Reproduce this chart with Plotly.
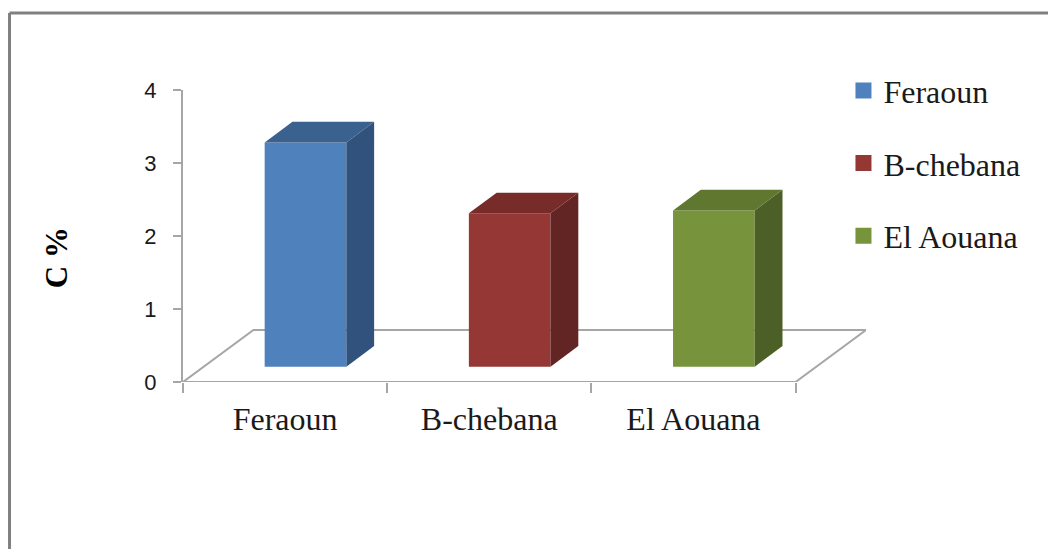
import plotly.graph_objects as go

# Carbon content per site
categories = ["Feraoun", "B-chebana", "El Aouana"]
values = [3.07, 2.10, 2.14]
y_ticks = [0, 1, 2, 3, 4]

front_colors = ["#4F81BD", "#953735", "#77933C"]
top_colors = ["#3B618F", "#772C2A", "#5F772F"]
side_colors = ["#30527C", "#632523", "#4C5F26"]

# Pseudo-3D projection, expressed in axis units
BAR_WIDTH = 0.40
BAR_SHIFT = 0.60
BAR_LIFT = 0.21
BAR_DX = 0.136
BAR_DY = 0.284
FLOOR_DX = 0.345
FLOOR_DY = 0.712
AXIS_GRAY = "#A6A6A6"
SERIF = "Liberation Serif"

n = len(categories)
x_range = [0, n + FLOOR_DX]

fig = go.Figure()

# Floor of the 3D box and the front edge acting as the category axis line
fig.add_trace(go.Scatter(
    x=[0, FLOOR_DX, n + FLOOR_DX, n, 0],
    y=[0, FLOOR_DY, FLOOR_DY, 0, 0],
    mode="lines", line=dict(color=AXIS_GRAY, width=2),
    cliponaxis=False, showlegend=False, hoverinfo="skip",
))

for i, (name, value) in enumerate(zip(categories, values)):
    left = i + BAR_SHIFT - BAR_WIDTH / 2
    right = left + BAR_WIDTH
    bottom = BAR_LIFT
    top = BAR_LIFT + value
    fig.add_trace(go.Bar(
        x=[i + BAR_SHIFT], y=[value], base=[BAR_LIFT], width=[BAR_WIDTH],
        marker=dict(color=front_colors[i], line=dict(width=0)),
        xaxis="x2", yaxis="y2", showlegend=False, name=name,
    ))
    # Right-hand side face
    fig.add_trace(go.Scatter(
        x=[right, right + BAR_DX, right + BAR_DX, right, right],
        y=[bottom, bottom + BAR_DY, top + BAR_DY, top, bottom],
        mode="lines", fill="toself", fillcolor=side_colors[i],
        line=dict(width=0, color=side_colors[i]),
        xaxis="x2", yaxis="y2", showlegend=False, hoverinfo="skip",
    ))
    # Top face
    fig.add_trace(go.Scatter(
        x=[left, left + BAR_DX, right + BAR_DX, right, left],
        y=[top, top + BAR_DY, top + BAR_DY, top, top],
        mode="lines", fill="toself", fillcolor=top_colors[i],
        line=dict(width=0, color=top_colors[i]),
        xaxis="x2", yaxis="y2", showlegend=False, hoverinfo="skip",
    ))
    # Legend entry with a larger square swatch, in its own group for row spacing
    fig.add_trace(go.Scatter(
        x=[None], y=[None], mode="markers", name=name,
        marker=dict(symbol="square", size=17, color=front_colors[i]),
        legendgroup=name, showlegend=True,
    ))

fig.update_layout(
    width=1048, height=549, autosize=False,
    margin=dict(l=183, r=182, t=90, b=167),
    paper_bgcolor="white", plot_bgcolor="white",
    showlegend=True,
    legend=dict(
        x=0.967, y=1.092, xanchor="left", yanchor="top",
        font=dict(family=SERIF, size=32, color="#1A1A1A"),
        tracegroupgap=28, itemsizing="trace", bgcolor="rgba(0,0,0,0)",
    ),
    xaxis=dict(
        range=x_range,
        tickvals=[i + 0.5 for i in range(n)],
        ticktext=categories, ticks="", ticklabelstandoff=15,
        showgrid=False, zeroline=False, showline=False,
        tickfont=dict(family=SERIF, size=32, color="#1A1A1A"),
        minor=dict(tickvals=list(range(n + 1)), ticks="outside",
                   ticklen=10, tickwidth=2, tickcolor=AXIS_GRAY, showgrid=False),
    ),
    yaxis=dict(
        range=[0, 4], tickvals=y_ticks, ticks="outside", ticklen=8,
        tickwidth=2, tickcolor=AXIS_GRAY, ticklabelstandoff=12,
        showgrid=False, zeroline=False, showline=True,
        linecolor=AXIS_GRAY, linewidth=2,
        tickfont=dict(family="Liberation Sans", size=22, color="#1A1A1A"),
    ),
    xaxis2=dict(range=x_range, overlaying="x", visible=False),
    yaxis2=dict(range=[0, 4], overlaying="y", visible=False),
    annotations=[dict(
        text="<b>C %</b>", textangle=-90, showarrow=False,
        xref="paper", yref="paper", x=-0.184, y=0.425,
        xanchor="center", yanchor="middle",
        font=dict(family=SERIF, size=31, color="black"),
    )],
    shapes=[
        # Chart frame: only the top and left edges fall inside the canvas
        dict(type="line", xref="paper", yref="paper", x0=-0.254, x1=1.27,
             y0=1.264, y1=1.264, line=dict(color="#808080", width=3)),
        dict(type="line", xref="paper", yref="paper", x0=-0.254, x1=-0.254,
             y0=1.264, y1=-0.58, line=dict(color="#808080", width=3)),
    ],
)

fig.write_html("out.html")
